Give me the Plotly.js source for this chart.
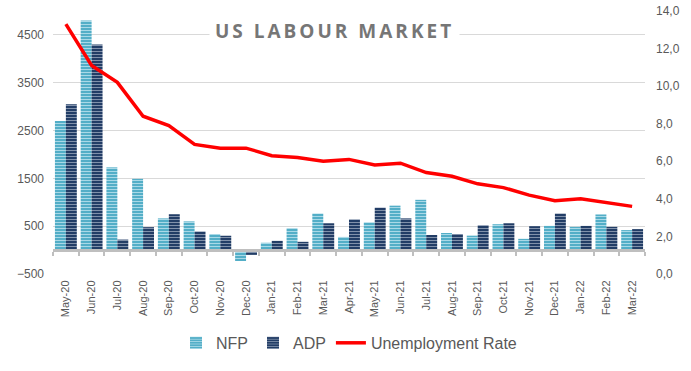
<!DOCTYPE html>
<html>
<head>
<meta charset="utf-8">
<script src="https://cdn.plot.ly/plotly-3.0.1.min.js"></script>
<style>
html,body{margin:0;padding:0;background:#fff;}
#chart{width:691px;height:371px;}
.annotation-text{letter-spacing:3px;}
</style>
</head>
<body>
<div id="chart"></div>
<script>
const months = ["May-20","Jun-20","Jul-20","Aug-20","Sep-20","Oct-20","Nov-20","Dec-20",
  "Jan-21","Feb-21","Mar-21","Apr-21","May-21","Jun-21","Jul-21","Aug-21","Sep-21","Oct-21",
  "Nov-21","Dec-21","Jan-22","Feb-22","Mar-22"];
const nfp = [2700, 4800, 1730, 1490, 663, 600, 336, -228, 153, 459, 765, 275, 581, 929, 1051,
  357, 302, 541, 235, 507, 486, 745, 418];
const adp = [3050, 4300, 220, 480, 750, 390, 300, -100, 194, 173, 561, 643, 888, 663, 316,
  337, 520, 561, 500, 765, 506, 486, 439];
const unemployment = [13.3, 11.1, 10.2, 8.4, 7.9, 6.9, 6.7, 6.7, 6.3, 6.2, 6.0, 6.1, 5.8, 5.9,
  5.4, 5.2, 4.8, 4.6, 4.2, 3.9, 4.0, 3.8, 3.6];
const leftTicks = [-500, 500, 1500, 2500, 3500, 4500];

const traces = [
  {type:'bar', name:'NFP', x:months, y:nfp, xaxis:'x', yaxis:'y',
   marker:{color:'#4bacc6', line:{width:0},
     pattern:{shape:'-', bgcolor:'#4aa9c4', fgcolor:'#a9d9e7', size:3, solidity:0.4}}},
  {type:'bar', name:'ADP', x:months, y:adp, xaxis:'x', yaxis:'y',
   marker:{color:'#24406a', line:{width:0},
     pattern:{shape:'-', bgcolor:'#223d66', fgcolor:'#8191aa', size:3, solidity:0.35}}},
  {type:'scatter', mode:'lines', name:'Unemployment Rate', x:months, y:unemployment,
   xaxis:'x', yaxis:'y2', line:{color:'#ff0000', width:3.5}}
];

const layout = {
  width:691, height:371,
  margin:{l:53, r:46, t:11, b:91},
  paper_bgcolor:'#ffffff', plot_bgcolor:'#ffffff',
  separators:', ',
  font:{family:'Liberation Sans, Arial, sans-serif', color:'#595959'},
  barmode:'group', bargap:0.15, bargroupgap:0,
  showlegend:true,
  legend:{orientation:'h', x:0.5, xanchor:'center', y:-0.262, yanchor:'middle',
    font:{size:16, color:'#595959'}, traceorder:'normal'},
  xaxis:{type:'category', anchor:'free', position:500/5500,
    showline:true, linecolor:'#bfbfbf', linewidth:3,
    ticks:'outside', tickson:'boundaries', ticklen:4, tickcolor:'#bfbfbf', tickwidth:2,
    tickangle:-90, tickfont:{size:11, color:'#595959'}, ticklabelstandoff:24,
    showgrid:false, zeroline:false, fixedrange:true},
  yaxis:{range:[-500,5000], tickmode:'array', tickvals:leftTicks,
    showgrid:true, gridcolor:'#d9d9d9', gridwidth:1, zeroline:false, showline:false,
    tickfont:{size:12, color:'#595959'}, ticklabelstandoff:8},
  yaxis2:{overlaying:'y', side:'right', range:[0,14], dtick:2, tick0:0, tickformat:'.1f',
    showgrid:false, zeroline:false, showline:false,
    tickfont:{size:12, color:'#595959'}, ticklabelstandoff:10},
  annotations:[{text:'<b>US LABOUR MARKET</b>', xref:'paper', yref:'paper',
    x:(334-53)/592, y:(280-31)/269, xanchor:'center', yanchor:'middle', showarrow:false,
    bgcolor:'#ffffff', borderpad:5,
    font:{family:'Open Sans, sans-serif', size:19, color:'#767676'}}]
};

Plotly.newPlot('chart', traces, layout, {displayModeBar:false, staticPlot:true});
</script>
</body>
</html>
